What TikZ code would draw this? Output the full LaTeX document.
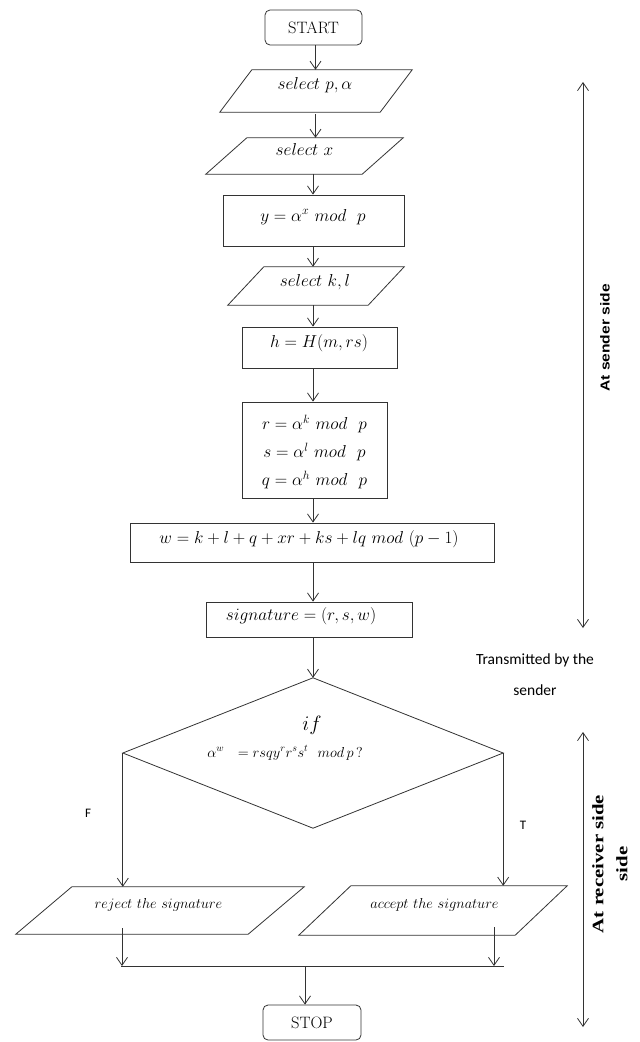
\documentclass[tikz,border=0pt]{standalone}
\usepackage{fontspec}
\newfontfamily\calib{Carlito}
\newfontfamily\lsans{Liberation Sans}
\newfontfamily\lserif{Liberation Serif}
\usetikzlibrary{arrows.meta}
\newcommand\mypara[2]{\draw[line] ([xshift=#2]#1.north west) -- (#1.north east) -- ([xshift=-#2]#1.south east) -- (#1.south west) -- cycle;}
\tikzset{
  line/.style={draw=black!80, line width=0.8pt},
  arr/.style={line, -{Straight Barb[length=8pt,width=11pt,line width=0.8pt]}},
  darr/.style={line, {Straight Barb[length=8pt,width=11pt,line width=0.8pt]}-{Straight Barb[length=8pt,width=11pt,line width=0.8pt]}},
  frame/.style n args={2}{draw=none, inner sep=0pt, minimum width=#1, minimum height=#2},
  box/.style n args={2}{line, inner sep=0pt, minimum width=#1, minimum height=#2},
  term/.style n args={2}{line, rounded corners=5pt, inner sep=0pt, minimum width=#1, minimum height=#2, font=\fontsize{16.5}{18}\selectfont},
  mtxt/.style={inner sep=0pt, anchor=base, font=\fontsize{18}{20}\selectfont},
  stxt/.style={inner sep=0pt, anchor=base, font=\fontsize{15.5}{17}\selectfont},
  ctxt/.style={inner sep=0pt, font=\calib\fontsize{13}{15}\selectfont},
}
\begin{document}
\begin{tikzpicture}[x=1pt,y=-1pt]
\useasboundingbox[fill=white] (0,0) rectangle (640,1042);
% column coordinates
\coordinate (ca) at (315.5,0);
\coordinate (cb) at (313,0);
% nodes
\node[term={97pt}{35pt}] (start) at (313.5,27.5) {START};
\node[frame={192pt}{42pt}] (p1) at (316,91) {};
\mypara{p1}{32pt}
\node[mtxt] (t1) at (315,89) {$select\ p,\alpha$};
\node[frame={197pt}{36pt}] (p2) at (304.5,156) {};
\mypara{p2}{41pt}
\node[mtxt] (t2) at (304.5,155) {$select\ x$};
\node[box={181pt}{51pt}] (r1) at (313.5,220.5) {};
\node[mtxt] (t3) at (313,221) {$y=\alpha^{x}\ mod\ \ p$};
\node[frame={176pt}{38pt}] (p3) at (316,286) {};
\mypara{p3}{36pt}
\node[mtxt] (t4) at (315,286) {$select\ k,l$};
\node[box={155pt}{41pt}] (r2) at (319.5,347.5) {};
\node[mtxt] (t5) at (319,347) {$h=H(m,rs)$};
\node[box={145pt}{96pt}] (r3) at (314.5,450) {};
\node[inner sep=0pt, align=center, font=\fontsize{18.5}{28}\selectfont] (t6) at (314.5,452) {$r=\alpha^{k}\ mod\ \ p$\\$s=\alpha^{l}\ mod\ \ p$\\$q=\alpha^{h}\ mod\ \ p$};
\node[box={364pt}{39pt}] (r4) at (312,542.5) {};
\node[mtxt] (t7) at (309,543) {$w=k+l+q+xr+ks+lq\ mod\ (p-1)$};
\node[box={206pt}{35pt}] (r5) at (309,619.5) {};
\node[mtxt] (t8) at (301,620) {$signature=(r,s,w)$};
\node[frame={380pt}{150pt}] (dia) at (313,753) {};
\draw[line] (dia.north) -- (dia.east) -- (dia.south) -- (dia.west) -- cycle;
\node[inner sep=0pt, anchor=base, font=\fontsize{20}{22}\selectfont] (t9) at (312,730) {$if$};
\node[inner sep=0pt, anchor=base, font=\fontsize{14.5}{16}\selectfont] (t10) at (285,757) {$\alpha^{w}\ \ =rsqy^{r}r^{s}s^{t}\ \ mod\,p\,?$};
\node[frame={288pt}{47pt}] (rej) at (160,910.5) {};
\mypara{rej}{56pt}
\node[stxt] (t11) at (158.5,908) {$reject\ the\ signature$};
\node[frame={268pt}{49pt}] (acc) at (433,910.5) {};
\mypara{acc}{52pt}
\node[stxt] (t12) at (434.5,908) {$accept\ the\ signature$};
\node[term={98pt}{35pt}] (stop) at (312,1022.5) {STOP};
\node[ctxt] (lf) at (88,813) {F};
\node[ctxt] (lt) at (523,825) {T};
\node[inner sep=0pt, align=center, font=\calib\fontsize{15.5}{31}\selectfont] (trans) at (535,675) {Transmitted by the\\sender};
% main connectors
\draw[arr] (start.south -| ca) -- (p1.north -| ca);
\draw[arr] ([yshift=-2pt]p1.south -| ca) -- (p2.north -| ca);
\draw[arr] (p2.south -| cb) -- (r1.north -| cb);
\draw[arr] (r1.south -| cb) -- (p3.north -| cb);
\draw[arr] (p3.south -| cb) -- (r2.north -| cb);
\draw[arr] (r2.south -| cb) -- (r3.north -| cb);
\draw[arr] (r3.south -| cb) -- (r4.north -| cb);
\draw[arr] (r4.south -| cb) -- (r5.north -| cb);
\draw[arr] (r5.south -| cb) -- (dia.north);
\draw[arr] (dia.west) -- (dia.west |- rej.north);
\draw[arr] (dia.east) -- (dia.east |- acc.north);
% join
\coordinate (jl) at (121,966);
\coordinate (jr) at (504,966);
\coordinate (jm) at (305,966);
\coordinate (lfa) at (122,928);
\coordinate (rfa) at (494,927);
\draw[arr] (lfa) -- (lfa |- jl);
\draw[arr] (rfa) -- (rfa |- jl);
\draw[line] (jl) -- (jr);
\draw[arr] (jm) -- (stop.north -| jm);
% side arrows
\coordinate (sa) at (583,82);
\coordinate (sb) at (583,628);
\coordinate (ra) at (583,732);
\coordinate (rb) at (583,1027);
\draw[darr] (sa) -- (sb);
\draw[darr] (ra) -- (rb);
\node[inner sep=0pt, rotate=90, xscale=1.2, font=\lsans\bfseries\fontsize{13}{15}\selectfont] (snd) at (605,338) {At sender side};
\node[inner sep=0pt, rotate=90, xscale=1.3, align=center, font=\lserif\bfseries\fontsize{16}{24}\selectfont] (rcv) at (610,864) {At receiver side\\side};
\end{tikzpicture}
\end{document}
